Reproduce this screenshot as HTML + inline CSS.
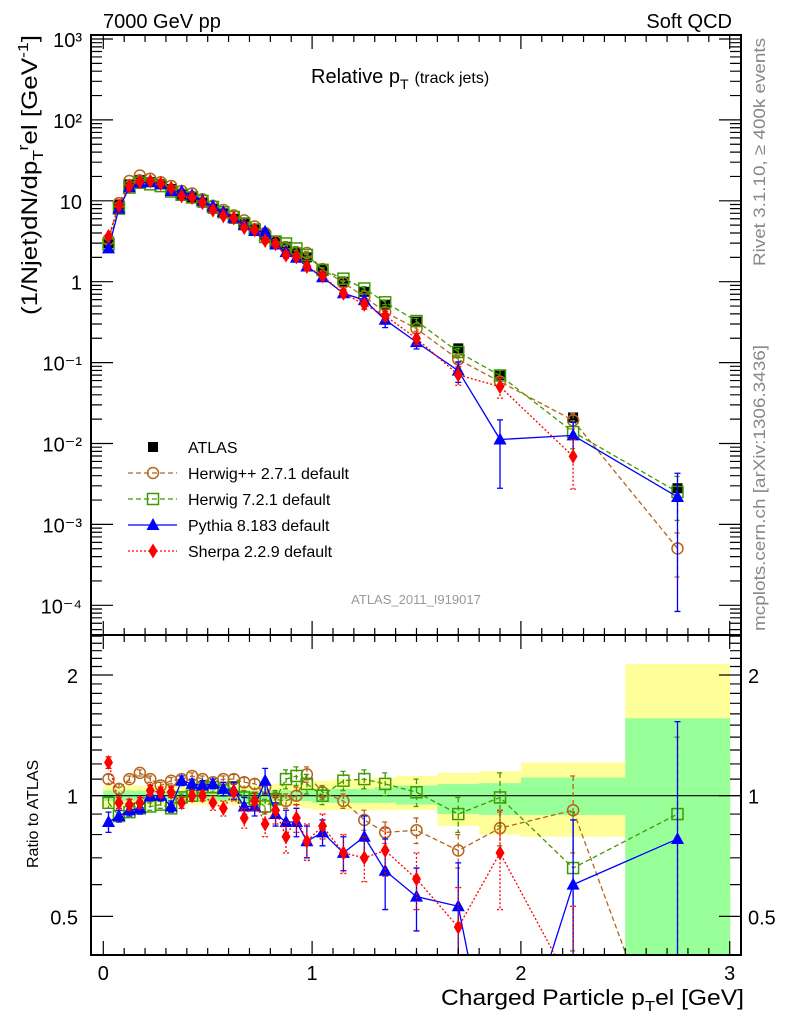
<!DOCTYPE html>
<html><head><meta charset="utf-8">
<style>
html,body{margin:0;padding:0;background:#fff;width:786px;height:1024px;overflow:hidden;}
svg{display:block;font-family:"Liberation Sans",Arial,sans-serif;}
</style></head>
<body>
<svg id="chart" width="786" height="1024" viewBox="0 0 786 1024" xmlns="http://www.w3.org/2000/svg">
  <defs>
    <clipPath id="clipMain"><rect x="91" y="35" width="650" height="600"/></clipPath>
    <clipPath id="clipRatio"><rect x="91" y="635" width="650" height="320"/></clipPath>
  </defs>
  <text x="103" y="28" font-size="20">7000 GeV pp</text>
  <text x="732" y="28" font-size="20" text-anchor="end">Soft QCD</text>
  <text x="311" y="83" font-size="20">Relative p<tspan font-size="14" dy="6">T</tspan><tspan dy="-6" font-size="16" dx="6">(track jets)</tspan></text>
  <text x="416" y="604" font-size="13" fill="#999" text-anchor="middle">ATLAS_2011_I919017</text>
  <text transform="translate(765,266) rotate(-90)" font-size="17" fill="#888" textLength="228" lengthAdjust="spacingAndGlyphs">Rivet 3.1.10, ≥ 400k events</text>
  <text transform="translate(765,631) rotate(-90)" font-size="17" fill="#888" textLength="286" lengthAdjust="spacingAndGlyphs">mcplots.cern.ch [arXiv:1306.3436]</text>
  <text transform="translate(37,315) rotate(-90)" font-size="22" textLength="280" lengthAdjust="spacingAndGlyphs">(1/Njet)dN/dp<tspan font-size="15" dy="6">T</tspan><tspan dy="-15" font-size="15">r</tspan><tspan dy="9">el [GeV</tspan><tspan dy="-9" font-size="15">-1</tspan><tspan dy="9">]</tspan></text>
  <text transform="translate(38,868) rotate(-90)" font-size="16">Ratio to ATLAS</text>
  <text x="441" y="1005" font-size="22" textLength="303" lengthAdjust="spacingAndGlyphs">Charged Particle p<tspan font-size="15" dy="6">T</tspan><tspan dy="-6">el [GeV]</tspan></text>
  <g id="bands" clip-path="url(#clipRatio)"></g>
  <g id="ratioMarks" clip-path="url(#clipRatio)"></g>
  <g id="mainMarks" clip-path="url(#clipMain)"></g>
  <g id="axes"></g>
  <g id="legend"></g>
</svg>
<script>
// ----- data -----
const binLo = [0,0.05,0.1,0.15,0.2,0.25,0.3,0.35,0.4,0.45,0.5,0.55,0.6,0.65,0.7,0.75,0.8,0.85,0.9,0.95,1.0,1.1,1.2,1.3,1.4,1.6,1.8,2.0,2.5];
const binHi = [0.05,0.1,0.15,0.2,0.25,0.3,0.35,0.4,0.45,0.5,0.55,0.6,0.65,0.7,0.75,0.8,0.85,0.9,0.95,1.0,1.1,1.2,1.3,1.4,1.6,1.8,2.0,2.5,3.0];
const atlas = [3.0,9,16,18,17,16,14,12,11,9.5,8,7,6,5.3,4.5,3.8,3.2,2.7,2.3,2.0,1.4,1.0,0.75,0.52,0.32,0.15,0.07,0.021,0.0028];
const ratioHpp = [1.10,1.04,1.10,1.14,1.10,1.06,1.09,1.10,1.12,1.10,1.08,1.10,1.10,1.08,1.07,1.05,0.98,0.97,1.00,1.13,1.02,0.97,0.87,0.81,0.82,0.73,0.83,0.92,0.18];
const ratioH7 = [0.96,0.89,0.91,0.93,0.94,0.95,0.93,0.99,1.00,1.05,1.05,1.03,1.05,0.99,0.98,0.94,0.98,1.10,1.12,1.07,1.00,1.09,1.10,1.07,1.02,0.90,0.99,0.66,0.90];
const ratioPy = [0.86,0.89,0.92,0.93,1.00,1.00,0.94,1.09,1.07,1.06,1.07,1.04,1.03,0.94,0.94,1.09,0.90,0.86,0.86,0.77,0.81,0.72,0.79,0.65,0.56,0.53,0.16,0.60,0.78];
const ratioSh = [1.21,0.96,0.95,0.96,1.03,1.02,1.02,0.96,1.00,1.00,0.96,0.93,1.02,0.88,0.97,0.85,0.92,0.79,0.88,0.77,0.84,0.72,0.70,0.73,0.62,0.47,0.72,0.33,null];
const errHpp = [0.03,0.03,0.02,0.02,0.02,0.02,0.02,0.02,0.02,0.02,0.02,0.02,0.03,0.03,0.03,0.04,0.04,0.04,0.05,0.05,0.04,0.04,0.05,0.05,0.06,0.07,0.08,0.2,0.1];
const errH7 = [0.03,0.03,0.02,0.02,0.02,0.02,0.02,0.02,0.02,0.02,0.03,0.03,0.03,0.04,0.04,0.04,0.05,0.06,0.06,0.06,0.05,0.06,0.06,0.07,0.08,0.09,0.15,0.25,0.5];
const errPy = [0.05,0.03,0.03,0.03,0.03,0.03,0.03,0.03,0.03,0.03,0.03,0.04,0.05,0.05,0.05,0.08,0.06,0.06,0.07,0.07,0.06,0.07,0.1,0.13,0.1,0.15,0.12,0.27,0.75];
const errSh = [0.04,0.03,0.03,0.03,0.03,0.03,0.03,0.03,0.03,0.03,0.04,0.04,0.05,0.05,0.05,0.06,0.07,0.07,0.07,0.08,0.06,0.08,0.09,0.1,0.1,0.12,0.2,0.2,0];
const bandYLo = [0.94,0.94,0.94,0.95,0.95,0.95,0.95,0.95,0.95,0.95,0.95,0.95,0.95,0.95,0.95,0.95,0.94,0.94,0.94,0.93,0.92,0.92,0.92,0.92,0.92,0.84,0.80,0.79,0.3];
const bandYHi = [1.06,1.06,1.06,1.06,1.06,1.06,1.06,1.06,1.06,1.06,1.06,1.06,1.06,1.06,1.06,1.06,1.07,1.07,1.07,1.08,1.09,1.10,1.10,1.11,1.12,1.14,1.15,1.21,2.13];
const bandGLo = [0.97,0.97,0.97,0.97,0.97,0.97,0.97,0.97,0.97,0.97,0.97,0.97,0.97,0.97,0.97,0.97,0.97,0.97,0.97,0.97,0.96,0.96,0.96,0.96,0.95,0.90,0.895,0.895,0.3];
const bandGHi = [1.03,1.03,1.03,1.03,1.03,1.03,1.03,1.03,1.03,1.03,1.03,1.03,1.03,1.03,1.03,1.03,1.03,1.03,1.03,1.03,1.04,1.04,1.04,1.05,1.06,1.07,1.075,1.11,1.56];
const mainTickExp = [-4,-3,-2,-1,0,1,2,3];
const mainTickLabels = ["10\u207B\u2074","10\u207B\u00B3","10\u207B\u00B2","10\u207B\u00B9","1","10","10\u00B2","10\u00B3"];
const ratioTickVals = [0.5,1,2];
const ratioTickLabels = ["0.5","1","2"];
const xTickVals = [0,1,2,3];
const xTickLabels = ["0","1","2","3"];

// ----- geometry -----
const L=91,R=741,MT=35,MB=635,RT=635,RB=955;
const X0=103.3, XS=208.8;
function xs(v){return X0+v*XS;}
function ym(v){return 281.7-Math.log10(v)*80.9;}
function yr(v){return 795.7-Math.log2(v)*120.7;}
const NS="http://www.w3.org/2000/svg";
function mk(tag,attrs,parent){const e=document.createElementNS(NS,tag);for(const k in attrs)e.setAttribute(k,attrs[k]);parent.appendChild(e);return e;}
const bands=document.getElementById('bands'),rm=document.getElementById('ratioMarks'),mm=document.getElementById('mainMarks'),ax=document.getElementById('axes'),lg=document.getElementById('legend');
const mid=binLo.map((l,i)=>(l+binHi[i])/2);

for(let i=0;i<binLo.length;i++){
  const r1=mk('rect',{x:xs(binLo[i]),y:yr(bandYHi[i]),width:xs(binHi[i])-xs(binLo[i])+0.5,height:yr(bandYLo[i])-yr(bandYHi[i]),fill:'#ffff99'},bands);
  
  
}
for(let i=0;i<binLo.length;i++){
  const r2=mk('rect',{x:xs(binLo[i]),y:yr(bandGHi[i]),width:xs(binHi[i])-xs(binLo[i])+0.5,height:yr(bandGLo[i])-yr(bandGHi[i]),fill:'#99ff99'},bands);
  
  
}
const unity=mk('line',{x1:L,x2:R,y1:yr(1),y2:yr(1),stroke:'#000','stroke-width':1.2},rm);



function marker(g,type,cx,cy,color){
  let e;
  if(type==='sq') e=mk('rect',{x:cx-5,y:cy-5,width:10,height:10,fill:'#000'},g);
  else if(type==='circ') e=mk('circle',{cx:cx,cy:cy,r:5.5,fill:'none',stroke:color,'stroke-width':1.5},g);
  else if(type==='osq') e=mk('rect',{x:cx-5.5,y:cy-5.5,width:11,height:11,fill:'none',stroke:color,'stroke-width':1.5},g);
  else if(type==='tri') e=mk('polygon',{points:`${cx},${cy-7} ${cx-6.5},${cy+5} ${cx+6.5},${cy+5}`,fill:color},g);
  else e=mk('polygon',{points:`${cx},${cy-7.5} ${cx-4.5},${cy} ${cx},${cy+7.5} ${cx+4.5},${cy}`,fill:color},g);
  return e;
}
const series=[
  {name:'herwigpp',ratio:ratioHpp,err:errHpp,color:'#b5651d',dash:'5,3',m:'circ'},
  {name:'herwig7',ratio:ratioH7,err:errH7,color:'#3f9a00',dash:'5,3',m:'osq'},
  {name:'pythia',ratio:ratioPy,err:errPy,color:'#0000ff',dash:'',m:'tri'},
  {name:'sherpa',ratio:ratioSh,err:errSh,color:'#ff0000',dash:'2,2',m:'dia'}
];
for(let i=0;i<atlas.length;i++){
  const e=marker(mm,'sq',xs(mid[i]),ym(atlas[i]));
  
  
}
series.forEach(s=>{
  [[mm,true],[rm,false]].forEach(([g,isMain])=>{
    const pts=[];
    for(let i=0;i<mid.length;i++){ if(s.ratio[i]==null) continue;
      const v=isMain?atlas[i]*s.ratio[i]:s.ratio[i];
      pts.push([xs(mid[i]),isMain?ym(v):yr(v)]);
    }
    const pl=mk('polyline',{points:pts.map(p=>p.join(',')).join(' '),fill:'none',stroke:s.color,'stroke-width':1.3,'stroke-dasharray':s.dash},g);
    
    
    for(let i=0;i<mid.length;i++){ if(s.ratio[i]==null) continue;
      const r=s.ratio[i], e=s.err[i], cx=xs(mid[i]);
      const lo=Math.max(r-e,0.01), hi=r+e;
      const y1=isMain?ym(atlas[i]*hi):yr(hi), y2=isMain?ym(atlas[i]*lo):yr(lo);
      const eb=mk('path',{d:`M${cx},${y1}V${y2}M${cx-3},${y1}h6M${cx-3},${y2}h6`,stroke:s.color,'stroke-width':1.3,fill:'none','stroke-dasharray':s.dash},g);
      
      
      const cy=isMain?ym(atlas[i]*r):yr(r);
      const m=marker(g,s.m,cx,cy,s.color);
      
      
    }
  });
});

[[MT,MB],[RT,RB]].forEach(([t,b],k)=>{
  const f=mk('rect',{x:L,y:t,width:R-L,height:b-t,fill:'none',stroke:'#000','stroke-width':2},ax);
  
  
  let d='';
  for(let v=0;v<=3.0001;v+=0.1){const x=xs(v);const major=Math.abs(v-Math.round(v))<1e-6;const len=major?14:7;
    d+=`M${x},${b}v${-len}M${x},${t}v${len}`;}
  mk('path',{d:d,stroke:'#000','stroke-width':1.2,fill:'none'},ax);
});
let d='';
for(let e=-5;e<=3;e++){for(let m=1;m<10;m++){const v=m*Math.pow(10,e);const y=ym(v);if(y<MT||y>MB)continue;const len=m===1?22:11;
  d+=`M${L},${y}h${len}M${R},${y}h${-len}`;}}
mk('path',{d:d,stroke:'#000','stroke-width':1.2,fill:'none'},ax);
mainTickExp.forEach((e,i)=>{
  const t=mk('text',{x:82,y:ym(Math.pow(10,e))+8,'font-size':20,'text-anchor':'end'},ax);
  t.textContent=mainTickLabels[i];
  
  
});
d='';
for(let v=0.4;v<=2.5001;v+=0.1){const y=yr(v);if(y<RT||y>RB)continue;const major=[0.5,1,2].some(q=>Math.abs(q-v)<1e-6);const len=major?22:11;
  d+=`M${L},${y}h${len}M${R},${y}h${-len}`;}
mk('path',{d:d,stroke:'#000','stroke-width':1.2,fill:'none'},ax);
ratioTickVals.forEach((v,i)=>{
  const t=mk('text',{x:78,y:yr(v)+8,'font-size':20,'text-anchor':'end'},ax);
  t.textContent=ratioTickLabels[i];
  
  
  const t2=mk('text',{x:748,y:yr(v)+8,'font-size':20},ax);
  t2.textContent=ratioTickLabels[i];
  
  
});
xTickVals.forEach((v,i)=>{
  const t=mk('text',{x:xs(v),y:980,'font-size':20,'text-anchor':'middle'},ax);
  t.textContent=xTickLabels[i];
  
  
});

const leg=[['ATLAS','sq','#000',null],['Herwig++ 2.7.1 default','circ','#b5651d','5,3'],['Herwig 7.2.1 default','osq','#3f9a00','5,3'],['Pythia 8.183 default','tri','#0000ff',''],['Sherpa 2.2.9 default','dia','#ff0000','2,2']];
leg.forEach((l,i)=>{
  const y=447+i*26;
  const g=mk('g',{},lg);
  
  
  if(l[3]!==null) mk('line',{x1:128,x2:177,y1:y,y2:y,stroke:l[2],'stroke-width':1.3,'stroke-dasharray':l[3]},g);
  marker(g,l[1],153,y,l[2]);
  const t=mk('text',{x:188,y:y+6,'font-size':16},g);
  t.textContent=l[0];
});
</script>
</body></html>
